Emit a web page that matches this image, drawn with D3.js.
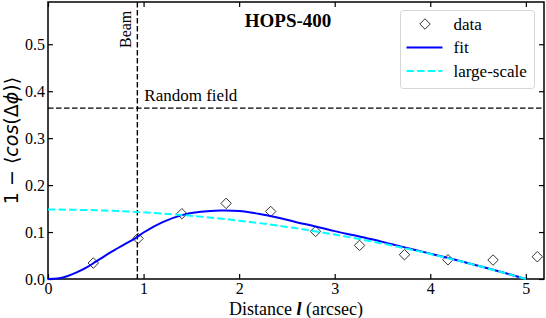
<!DOCTYPE html>
<html>
<head>
<meta charset="utf-8">
<script src="https://d3js.org/d3.v7.min.js"></script>
<style>
  body { margin: 0; background: #fff; }
  svg { display: block; }
  .tick text { font-family: "Liberation Serif", "Times New Roman", serif; font-size: 16px; fill: #000; }
</style>
</head>
<body>
<div id="chart"></div>
<script>
// measured points (diamonds)
var dataL = [0.474, 0.942, 1.40, 1.864, 2.33, 2.80, 3.26, 3.73, 4.185, 4.657, 5.12];
var dataV = [0.034, 0.0864, 0.139, 0.161, 0.1438, 0.1013, 0.0715, 0.0517, 0.041, 0.0404, 0.0474];

// fitted curve
var fitL = [0, 0.1, 0.2, 0.3, 0.4, 0.5, 0.6, 0.7, 0.8, 0.9, 1.0, 1.2, 1.4, 1.6, 1.8, 2.0, 2.2, 2.4, 2.6, 2.8, 3.0, 3.2, 3.4, 3.6, 3.8, 4.0, 4.2, 4.4, 4.6, 4.8, 5.0];
var fitV = [0, 0.001, 0.006, 0.014, 0.024, 0.037, 0.050, 0.062, 0.074, 0.085, 0.099, 0.121, 0.136, 0.143, 0.146, 0.145, 0.139, 0.131, 0.121, 0.112, 0.102, 0.093, 0.084, 0.074, 0.064, 0.054, 0.044, 0.0335, 0.0228, 0.0117, 0];

// large-scale component
var largeL = [0, 0.5, 1.0, 1.5, 2.0, 2.5, 3.0, 3.5, 4.0, 4.5, 5.0];
var largeV = [0.148, 0.1465, 0.142, 0.1347, 0.1243, 0.111, 0.0947, 0.0755, 0.0533, 0.0281, 0];

var BEAM = 0.935;
var RANDOM = 0.364;

var xTicks = [0, 1, 2, 3, 4, 5];
var yTicks = [0, 0.1, 0.2, 0.3, 0.4, 0.5];

var width = 546, height = 318;
var margin = {left: 48, right: 2, top: 2, bottom: 39};
var w = width - margin.left - margin.right;
var h = height - margin.top - margin.bottom;
var SERIF = '"Liberation Serif", "Times New Roman", serif';

var svg = d3.select("#chart").append("svg")
  .attr("width", width)
  .attr("height", height);

var g = svg.append("g")
  .attr("transform", "translate(" + margin.left + "," + margin.top + ")");

var x = d3.scaleLinear().domain([0, 5.19]).range([0, w]);
var y = d3.scaleLinear().domain([0, 0.59]).range([h, 0]);

// axes, ticks pointing inward on all sides
g.append("g")
  .attr("transform", "translate(0," + h + ")")
  .call(d3.axisBottom(x).tickValues(xTicks).tickFormat(d3.format("d")).tickSizeInner(-5).tickSizeOuter(0).tickPadding(4))
g.append("g")
  .call(d3.axisLeft(y).tickValues(yTicks).tickFormat(d3.format(".1f")).tickSizeInner(-5).tickSizeOuter(0).tickPadding(3))
g.append("g")
  .call(d3.axisTop(x).tickValues(xTicks).tickFormat("").tickSizeInner(-5).tickSizeOuter(0))
g.append("g")
  .attr("transform", "translate(" + w + ",0)")
  .call(d3.axisRight(y).tickValues(yTicks).tickFormat("").tickSizeInner(-5).tickSizeOuter(0))

g.selectAll(".domain").remove()
g.selectAll(".tick line").attr("stroke", "#000").attr("stroke-width", 1.2)

g.append("rect")
  .attr("width", w)
  .attr("height", h)
  .attr("fill", "none")
  .attr("stroke", "#000")
  .attr("stroke-width", 1.5)

// reference lines
g.append("line")
  .attr("x1", x(BEAM)).attr("x2", x(BEAM))
  .attr("y1", 0).attr("y2", h)
  .attr("stroke", "#000").attr("stroke-width", 1.4)
  .attr("stroke-dasharray", "5.5,2.5")
g.append("line")
  .attr("x1", 0).attr("x2", w)
  .attr("y1", y(RANDOM)).attr("y2", y(RANDOM))
  .attr("stroke", "#000").attr("stroke-width", 1.4)
  .attr("stroke-dasharray", "5.5,2.5")

g.append("text")
  .attr("transform", "translate(" + (x(BEAM) - 6) + ",46)rotate(-90)")
  .style("font-family", SERIF)
  .style("font-size", "16px")
  .text("Beam")
g.append("text")
  .attr("x", x(BEAM) + 7)
  .attr("y", y(RANDOM) - 7)
  .style("font-family", SERIF)
  .style("font-size", "17px")
  .text("Random field")

// data diamonds
var diamond = d3.symbol().type(d3.symbolDiamond2).size(70);
g.selectAll(".pt")
  .data(dataL)
  .enter().append("path")
    .attr("class", "pt")
    .attr("d", diamond)
    .attr("transform", function(d, i){ return "translate(" + x(d) + "," + y(dataV[i]) + ")" })
    .attr("fill", "none")
    .attr("stroke", "#333")
    .attr("stroke-width", 1)

var line = d3.line()
  .x(function(d){ return x(d[0]) })
  .y(function(d){ return y(d[1]) })
  .curve(d3.curveCatmullRom)

g.append("path")
  .datum(fitL.map(function(d, i){ return [d, fitV[i]] }))
  .attr("d", line)
  .attr("fill", "none")
  .attr("stroke", "#0000ff")
  .attr("stroke-width", 2)

g.append("path")
  .datum(largeL.map(function(d, i){ return [d, largeV[i]] }))
  .attr("d", line)
  .attr("fill", "none")
  .attr("stroke", "#00ffff")
  .attr("stroke-width", 2)
  .attr("stroke-dasharray", "7.4,3.2")

// title
g.append("text")
  .attr("x", 240)
  .attr("y", 25)
  .attr("text-anchor", "middle")
  .style("font-family", SERIF)
  .style("font-size", "19px")
  .style("font-weight", "bold")
  .text("HOPS-400")

// legend
var leg = g.append("g").attr("transform", "translate(" + (400.5 - margin.left) + "," + (10.5 - margin.top) + ")")
leg.append("rect")
  .attr("width", 134)
  .attr("height", 78)
  .attr("rx", 3)
  .attr("fill", "#fff")
  .attr("fill-opacity", 0.8)
  .attr("stroke", "#d6d6d6")
  .attr("stroke-width", 1)
leg.append("path")
  .attr("d", diamond)
  .attr("transform", "translate(24.5,13.5)")
  .attr("fill", "none")
  .attr("stroke", "#333")
leg.append("line")
  .attr("x1", 6).attr("x2", 42).attr("y1", 37).attr("y2", 37)
  .attr("stroke", "#0000ff").attr("stroke-width", 2)
leg.append("line")
  .attr("x1", 6).attr("x2", 42).attr("y1", 60.5).attr("y2", 60.5)
  .attr("stroke", "#00ffff").attr("stroke-width", 2)
  .attr("stroke-dasharray", "7.4,3.2")
var legLabels = ["data", "fit", "large-scale"];
leg.selectAll(".lt")
  .data(legLabels)
  .enter().append("text")
    .attr("class", "lt")
    .attr("x", 53)
    .attr("y", function(d, i){ return 19 + i * 23.5 })
    .style("font-family", SERIF)
    .style("font-size", "17px")
    .text(function(d){ return d })

// axis labels
svg.append("text")
  .attr("x", margin.left + w / 2)
  .attr("y", 315)
  .attr("text-anchor", "middle")
  .style("font-family", SERIF)
  .style("font-size", "18px")
  .html('Distance <tspan font-weight="bold" font-style="italic">l</tspan> (arcsec)')

var ylab = svg.append("text")
  .attr("transform", "translate(18," + (margin.top + h / 2) + ")rotate(-90)")
  .attr("text-anchor", "middle")
  .style("font-family", '"DejaVu Sans", sans-serif')
  .style("font-size", "19px")
ylab.append("tspan").text("1 \u2212 \u27e8")
ylab.append("tspan").style("font-style", "italic").text("cos")
ylab.append("tspan").text("(\u0394")
ylab.append("tspan").style("font-style", "italic").text("\u03d5")
ylab.append("tspan").text(")\u27e9")
</script>
</body>
</html>
